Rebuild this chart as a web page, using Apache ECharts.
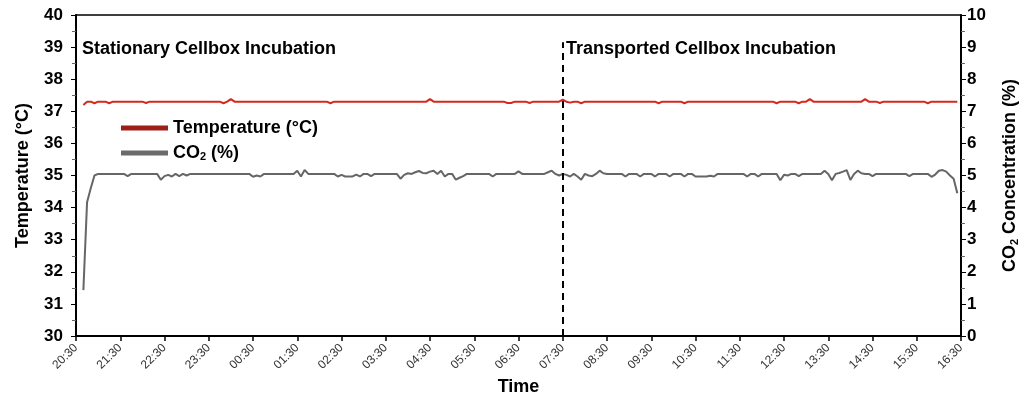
<!DOCTYPE html>
<html>
<head>
<meta charset="utf-8">
<script src="https://cdn.jsdelivr.net/npm/echarts@6/dist/echarts.min.js"></script>
<style>
  html, body { margin: 0; padding: 0; background: #fff; }
  #chart { width: 1027px; height: 396px; }
</style>
</head>
<body>
<div id="chart"></div>
<script>
// ---- data (5-minute samples starting 20:30) ----
const startTime = '20:30';
const stepMinutes = 5;
const sampleCount = 241; // 20:30 .. 16:30
const dividerTime = '07:30';
const leftLabel = 'Stationary Cellbox Incubation';
const rightLabel = 'Transported Cellbox Incubation';

const temperature = [
  null,null,37.2,37.3,37.3,37.25,37.3,37.3,37.3,37.25,
  37.3,37.3,37.3,37.3,37.3,37.3,37.3,37.3,37.3,37.26,
  37.3,37.3,37.3,37.3,37.3,37.3,37.3,37.3,37.3,37.3,
  37.3,37.3,37.3,37.3,37.3,37.3,37.3,37.3,37.3,37.3,
  37.25,37.3,37.38,37.3,37.3,37.3,37.3,37.3,37.3,37.3,
  37.3,37.3,37.3,37.3,37.3,37.3,37.3,37.3,37.3,37.3,
  37.3,37.3,37.3,37.3,37.3,37.3,37.3,37.3,37.3,37.25,
  37.3,37.3,37.3,37.3,37.3,37.3,37.3,37.3,37.3,37.3,
  37.3,37.3,37.3,37.3,37.3,37.3,37.3,37.3,37.3,37.3,
  37.3,37.3,37.3,37.3,37.3,37.3,37.38,37.3,37.3,37.3,
  37.3,37.3,37.3,37.3,37.3,37.3,37.3,37.3,37.3,37.3,
  37.3,37.3,37.3,37.3,37.3,37.3,37.3,37.26,37.26,37.3,
  37.3,37.3,37.3,37.26,37.3,37.3,37.3,37.3,37.3,37.3,
  37.3,37.3,37.36,37.3,37.27,37.3,37.3,37.25,37.3,37.3,
  37.3,37.3,37.3,37.3,37.3,37.3,37.3,37.3,37.3,37.3,
  37.3,37.3,37.3,37.3,37.3,37.3,37.3,37.3,37.25,37.3,
  37.3,37.3,37.3,37.3,37.3,37.25,37.3,37.3,37.3,37.3,
  37.3,37.3,37.3,37.3,37.3,37.3,37.3,37.3,37.3,37.3,
  37.3,37.3,37.3,37.3,37.3,37.3,37.3,37.3,37.3,37.3,
  37.25,37.3,37.3,37.3,37.3,37.3,37.25,37.3,37.3,37.38,
  37.3,37.3,37.3,37.3,37.3,37.3,37.3,37.3,37.3,37.3,
  37.3,37.3,37.3,37.3,37.38,37.3,37.3,37.3,37.26,37.3,
  37.3,37.3,37.3,37.3,37.3,37.3,37.3,37.3,37.3,37.3,
  37.3,37.25,37.3,37.3,37.3,37.3,37.3,37.3,37.3,37.3
];

const co2 = [
  null,null,1.43,4.17,4.6,5.0,5.05,5.05,5.05,5.05,
  5.05,5.05,5.05,5.05,4.98,5.05,5.05,5.05,5.05,5.05,
  5.05,5.05,5.05,4.87,4.98,5.02,4.97,5.05,4.98,5.05,
  5.0,5.05,5.05,5.05,5.05,5.05,5.05,5.05,5.05,5.05,
  5.05,5.05,5.05,5.05,5.05,5.05,5.05,5.05,4.96,5.0,
  4.97,5.05,5.05,5.05,5.05,5.05,5.05,5.05,5.05,5.05,
  5.15,4.97,5.17,5.05,5.05,5.05,5.05,5.05,5.05,5.05,
  5.05,4.97,5.02,4.97,4.97,4.97,5.03,4.97,5.05,5.05,
  4.98,5.05,5.05,5.05,5.05,5.05,5.05,5.05,4.9,5.02,
  5.07,5.05,5.1,5.14,5.08,5.07,5.12,5.15,5.05,5.15,
  4.97,5.05,5.05,4.87,4.93,4.98,5.05,5.05,5.05,5.05,
  5.05,5.05,5.05,4.97,5.05,5.05,5.05,5.05,5.05,5.05,
  5.13,5.05,5.05,5.05,5.05,5.05,5.05,5.05,5.1,5.15,
  5.05,5.0,5.05,5.02,4.97,5.05,4.97,4.87,5.05,5.0,
  4.98,5.05,5.15,5.07,5.05,5.05,5.05,5.05,5.05,4.97,
  5.05,5.05,5.05,4.97,5.05,5.05,5.05,4.97,5.05,5.05,
  5.05,4.97,5.05,5.05,5.05,4.97,5.05,5.05,4.97,4.97,
  4.97,4.97,4.99,4.97,5.05,5.05,5.05,5.05,5.05,5.05,
  5.05,5.05,4.97,5.05,5.05,4.97,5.05,5.05,5.05,5.05,
  5.05,4.85,5.02,5.0,5.05,5.05,4.98,5.05,5.05,5.05,
  5.05,5.05,5.05,5.15,5.05,4.85,5.05,5.08,5.12,5.17,
  4.86,5.05,5.15,5.07,5.05,5.05,4.98,5.05,5.05,5.05,
  5.05,5.05,5.05,5.05,5.05,5.05,4.98,5.05,5.05,5.05,
  5.05,5.05,4.96,5.03,5.15,5.17,5.12,5.0,4.9,4.45
];

// build the sample time categories
const categories = [];
(function () {
  const [h0, m0] = startTime.split(':').map(Number);
  for (let i = 0; i < sampleCount; i++) {
    const t = (h0 * 60 + m0 + i * stepMinutes) % (24 * 60);
    const hh = String(Math.floor(t / 60)).padStart(2, '0');
    const mm = String(t % 60).padStart(2, '0');
    categories.push(hh + ':' + mm);
  }
})();

const FONT = '"Liberation Sans", Arial, sans-serif';
const chart = echarts.init(document.getElementById('chart'), null, { renderer: 'canvas' });
const hourly = (idx) => idx % 12 === 0;

chart.setOption({
  animation: false,
  backgroundColor: '#fff',
  textStyle: { fontFamily: FONT },
  grid: {
    left: 76, right: 66, top: 15, bottom: 60,
    containLabel: false, outerBoundsMode: 'none',
    show: true, borderColor: '#000', borderWidth: 1.5
  },
  legend: {
    orient: 'vertical',
    left: 116,
    top: 114,
    itemWidth: 47,
    itemHeight: 5,
    itemGap: 7,
    textStyle: {
      fontFamily: FONT, fontSize: 18, fontWeight: 'bold', color: '#000',
      rich: {
        a: { fontFamily: FONT, fontSize: 18, fontWeight: 'bold', color: '#000' },
        s: { fontFamily: FONT, fontSize: 11, fontWeight: 'bold', color: '#000', verticalAlign: 'bottom', padding: [8, 0, 0, 0] }
      }
    },
    formatter: function (name) {
      if (name === 'CO2 (%)') return '{a|CO}{s|2}{a| (%)}';
      return '{a|' + name + '}';
    },
    data: [
      { name: 'Temperature (°C)', icon: 'rect', itemStyle: { color: '#9e1f1a' } },
      { name: 'CO2 (%)', icon: 'rect', itemStyle: { color: '#6b6b6b' } }
    ]
  },
  xAxis: {
    type: 'category',
    data: categories,
    boundaryGap: false,
    name: 'Time',
    nameLocation: 'middle',
    nameGap: 42,
    nameTextStyle: { fontFamily: FONT, fontSize: 18, fontWeight: 'bold', color: '#000' },
    axisLine: { lineStyle: { color: '#000', width: 2 } },
    axisTick: { show: true, interval: (i) => hourly(i), length: 5, lineStyle: { color: '#000', width: 1.5 } },
    axisLabel: { interval: (i) => hourly(i), rotate: 45, fontSize: 12, color: '#333', fontFamily: FONT, margin: 10 },
    splitLine: { show: false }
  },
  yAxis: [
    {
      type: 'value', min: 30, max: 40, interval: 1, position: 'left',
      name: 'Temperature (°C)', nameLocation: 'middle', nameGap: 44, nameRotate: 90,
      nameTextStyle: { fontFamily: FONT, fontSize: 18, fontWeight: 'bold', color: '#000' },
      axisLine: { show: true, lineStyle: { color: '#000', width: 2 } },
      axisTick: { show: true, length: 5, lineStyle: { color: '#000', width: 1 } },
      minorTick: { show: true, splitNumber: 2, length: 4, lineStyle: { color: '#666', width: 1 } },
      axisLabel: { fontSize: 17, fontWeight: 'bold', color: '#000', fontFamily: FONT, margin: 13 },
      splitLine: { show: false }
    },
    {
      type: 'value', min: 0, max: 10, interval: 1, position: 'right',
      name: '{a|CO}{s|2}{a| Concentration (%)}', nameLocation: 'middle', nameGap: 40, nameRotate: 90,
      nameTextStyle: {
        fontFamily: FONT, fontSize: 18, fontWeight: 'bold', color: '#000',
        rich: {
          a: { fontFamily: FONT, fontSize: 18, fontWeight: 'bold', color: '#000' },
          s: { fontFamily: FONT, fontSize: 11, fontWeight: 'bold', color: '#000', verticalAlign: 'bottom', padding: [8, 0, 0, 0] }
        }
      },
      axisLine: { show: true, lineStyle: { color: '#000', width: 2 } },
      axisTick: { show: true, length: 5, lineStyle: { color: '#000', width: 1 } },
      minorTick: { show: true, splitNumber: 2, length: 4, lineStyle: { color: '#666', width: 1 } },
      axisLabel: { fontSize: 17, fontWeight: 'bold', color: '#000', fontFamily: FONT, margin: 6 },
      splitLine: { show: false }
    }
  ],
  graphic: [
    { type: 'text', left: 82, top: 40, style: { text: leftLabel, font: 'bold 18px ' + FONT, fill: '#000' } },
    { type: 'text', left: 566, top: 40, style: { text: rightLabel, font: 'bold 18px ' + FONT, fill: '#000' } }
  ],
  series: [
    {
      name: 'Temperature (°C)', type: 'line', yAxisIndex: 0, data: temperature,
      showSymbol: false, symbol: 'none', connectNulls: false,
      lineStyle: { color: '#d42a1e', width: 2 }, itemStyle: { color: '#9e1f1a' },
      markLine: {
        silent: true, symbol: ['none', 'none'], label: { show: false },
        lineStyle: { color: '#000', width: 2, type: [7, 5] },
        data: [[{ coord: [dividerTime, 30] }, { coord: [dividerTime, 39.15] }]]
      },
      z: 3
    },
    {
      name: 'CO2 (%)', type: 'line', yAxisIndex: 1, data: co2,
      showSymbol: false, symbol: 'none',
      lineStyle: { color: '#666666', width: 2 }, itemStyle: { color: '#6b6b6b' },
      z: 2
    }
  ]
});
</script>
</body>
</html>
